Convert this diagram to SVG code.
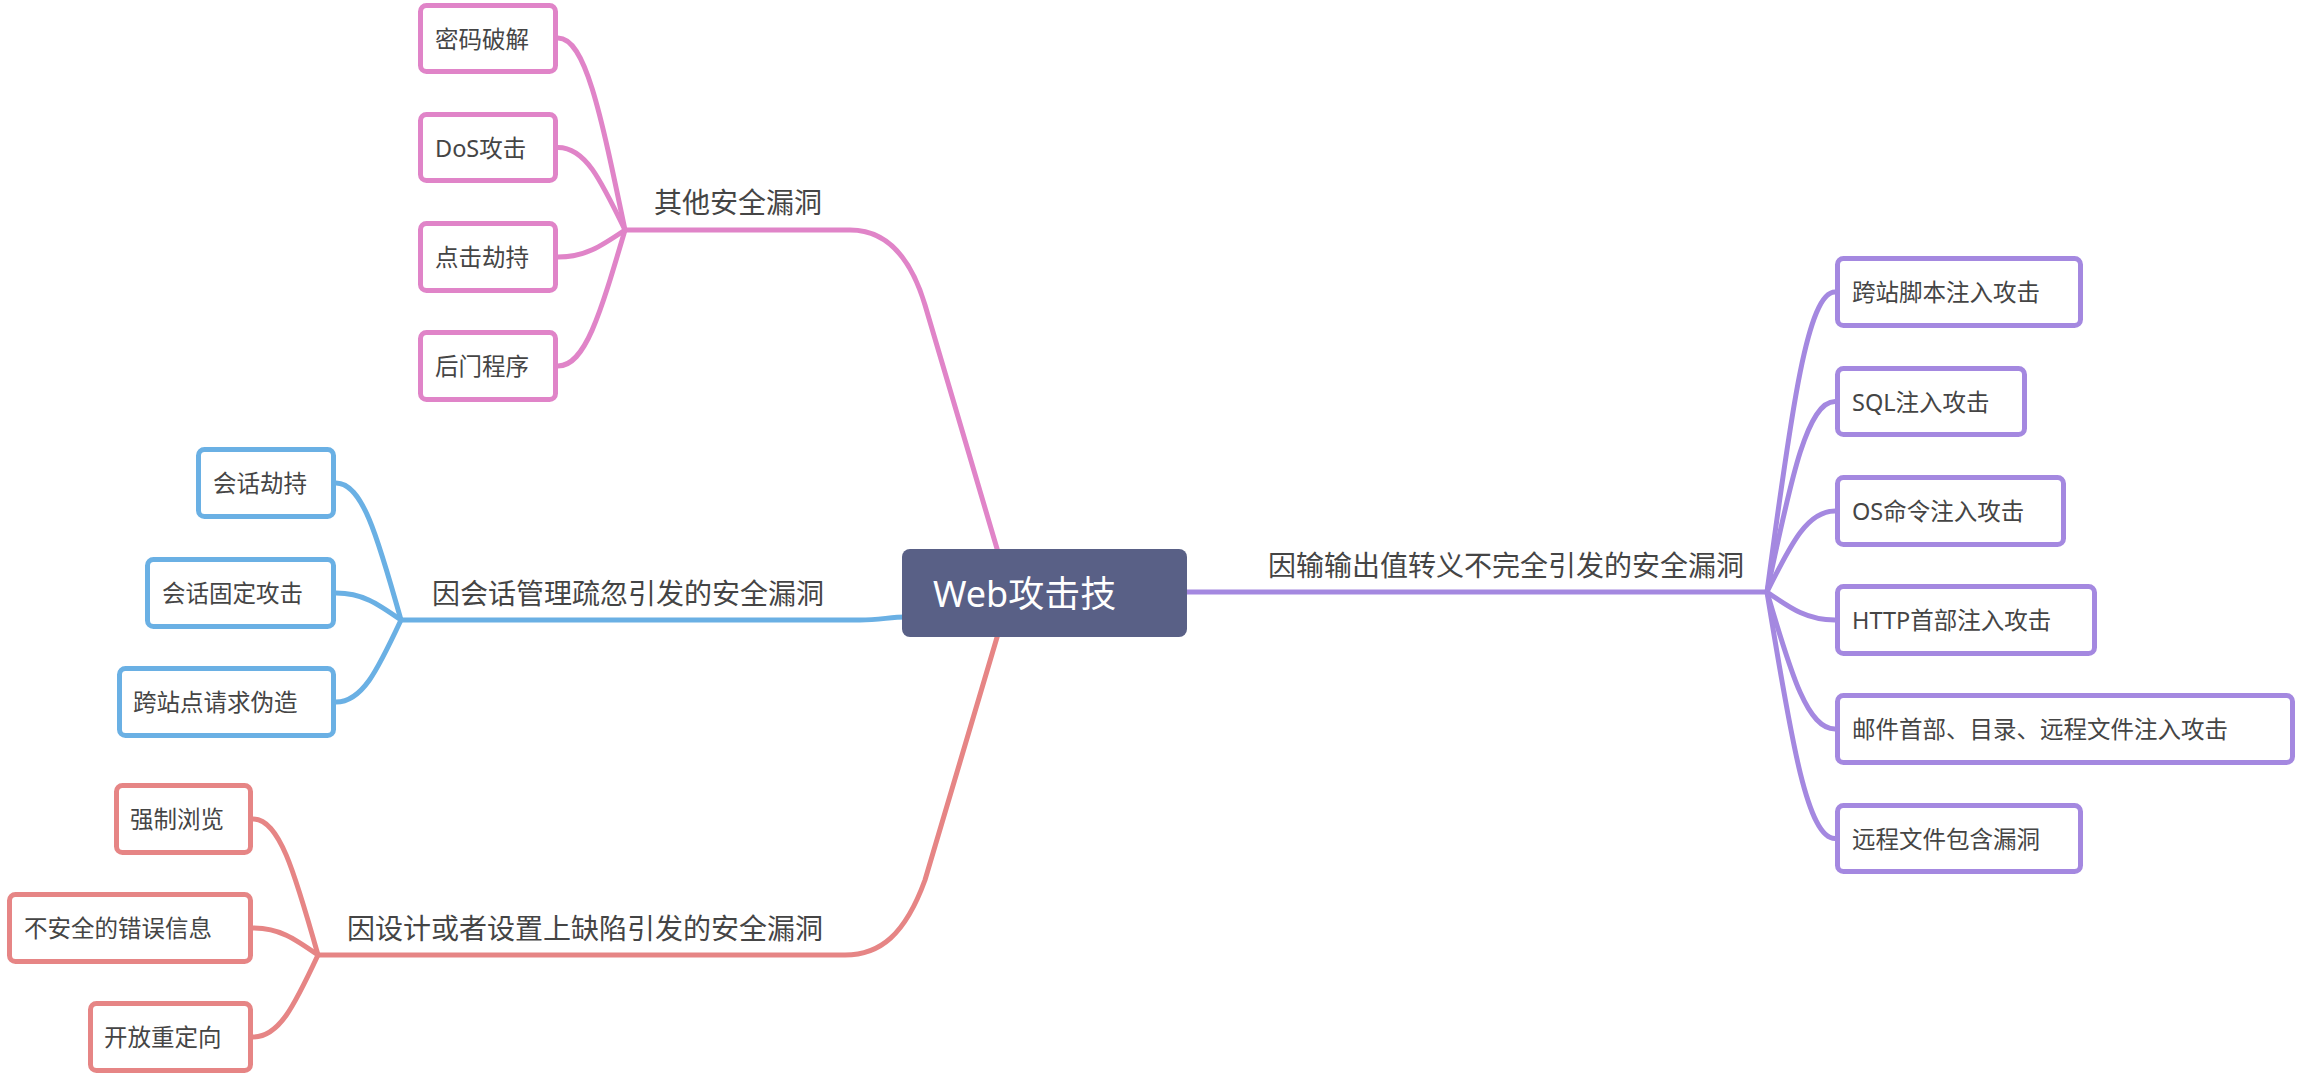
<svg xmlns="http://www.w3.org/2000/svg" width="2302" height="1076" viewBox="0 0 2302 1076">
<style>
.bg{fill:#ffffff}
.ln{fill:none;stroke-width:5;stroke-linecap:butt}
.pk{stroke:#E084C8}
.bl{stroke:#6AB0E4}
.rd{stroke:#E68585}
.pu{stroke:#A488E0}
.box{fill:#ffffff;stroke-width:5}
.t{font-family:"Noto Sans","Noto Sans CJK SC",sans-serif;fill:#454545;dominant-baseline:central}
.c{font-size:23.5px}
.b{font-size:28px}
.root{font-family:"Noto Sans","Noto Sans CJK SC",sans-serif;font-size:36px;fill:#ffffff;dominant-baseline:central}
</style>
<rect class="bg" x="0" y="0" width="2302" height="1076"/>
<g id="connectors">
  <!-- pink branch -->
  <path class="ln pk" d="M625,230 H850 C885,230 910,255 925,305 L998,552"/>
  <path class="ln pk" d="M558,38 C585,38 600,110 625,230"/>
  <path class="ln pk" d="M558,147.5 C585,147.5 600,178.4 625,230"/>
  <path class="ln pk" d="M558,257 C585,257 600,246.9 625,230"/>
  <path class="ln pk" d="M558,366 C585,366 600,315 625,230"/>
  <!-- blue branch -->
  <path class="ln bl" d="M401,620 H860 C880,620 890,617 906,617"/>
  <path class="ln bl" d="M336,483 C362,483 377,534.4 401,620"/>
  <path class="ln bl" d="M336,593 C362,593 377,603.1 401,620"/>
  <path class="ln bl" d="M336,702 C362,702 377,671.3 401,620"/>
  <!-- red branch -->
  <path class="ln rd" d="M318,955 H845 C880,955 905,935 925,880 L998,634"/>
  <path class="ln rd" d="M253,819 C279,819 294,870 318,955"/>
  <path class="ln rd" d="M253,928 C279,928 294,938.1 318,955"/>
  <path class="ln rd" d="M253,1037 C279,1037 294,1006.3 318,955"/>
  <!-- purple branch -->
  <path class="ln pu" d="M1184,592 H1767"/>
  <path class="ln pu" d="M1835,292 C1808,292 1792,404.5 1767,592"/>
  <path class="ln pu" d="M1835,401.5 C1808,401.5 1792,472.9 1767,592"/>
  <path class="ln pu" d="M1835,511 C1808,511 1792,541.4 1767,592"/>
  <path class="ln pu" d="M1835,620 C1808,620 1792,609.5 1767,592"/>
  <path class="ln pu" d="M1835,729 C1808,729 1792,677.6 1767,592"/>
  <path class="ln pu" d="M1835,838.5 C1808,838.5 1792,746.1 1767,592"/>
</g>

<g id="root">
  <rect x="902" y="549" width="285" height="88" rx="8" fill="#596086"/>
  <text class="root" x="933" y="593">Web攻击技</text>
</g>

<g id="branch-other">
  <text class="t b" x="654" y="202">其他安全漏洞</text>
</g>
<g id="node-mima">
  <rect class="box pk" x="420.5" y="5.5" width="135" height="66" rx="6"/>
  <text class="t c" x="435" y="38.5">密码破解</text>
</g>
<g id="node-dos">
  <rect class="box pk" x="420.5" y="114.5" width="135" height="66" rx="6"/>
  <text class="t c" x="435" y="147.5">DoS攻击</text>
</g>
<g id="node-click">
  <rect class="box pk" x="420.5" y="223.5" width="135" height="67" rx="6"/>
  <text class="t c" x="435" y="257">点击劫持</text>
</g>
<g id="node-backdoor">
  <rect class="box pk" x="420.5" y="332.5" width="135" height="67" rx="6"/>
  <text class="t c" x="435" y="366">后门程序</text>
</g>

<g id="branch-session">
  <text class="t b" x="432" y="593">因会话管理疏忽引发的安全漏洞</text>
</g>
<g id="node-session-hijack">
  <rect class="box bl" x="198.5" y="449.5" width="135" height="67" rx="6"/>
  <text class="t c" x="213" y="483">会话劫持</text>
</g>
<g id="node-session-fix">
  <rect class="box bl" x="147.5" y="559.5" width="186" height="67" rx="6"/>
  <text class="t c" x="162" y="593">会话固定攻击</text>
</g>
<g id="node-csrf">
  <rect class="box bl" x="119.5" y="668.5" width="214" height="67" rx="6"/>
  <text class="t c" x="133" y="702">跨站点请求伪造</text>
</g>

<g id="branch-design">
  <text class="t b" x="347" y="928">因设计或者设置上缺陷引发的安全漏洞</text>
</g>
<g id="node-force">
  <rect class="box rd" x="116.5" y="785.5" width="134" height="67" rx="6"/>
  <text class="t c" x="130" y="819">强制浏览</text>
</g>
<g id="node-error">
  <rect class="box rd" x="9.5" y="894.5" width="241" height="67" rx="6"/>
  <text class="t c" x="24" y="928">不安全的错误信息</text>
</g>
<g id="node-redirect">
  <rect class="box rd" x="90.5" y="1003.5" width="160" height="67" rx="6"/>
  <text class="t c" x="104" y="1037">开放重定向</text>
</g>

<g id="branch-escape">
  <text class="t b" x="1268" y="565">因输输出值转义不完全引发的安全漏洞</text>
</g>
<g id="node-xss">
  <rect class="box pu" x="1837.5" y="258.5" width="243" height="67" rx="6"/>
  <text class="t c" x="1852" y="292">跨站脚本注入攻击</text>
</g>
<g id="node-sql">
  <rect class="box pu" x="1837.5" y="368.5" width="187" height="66" rx="6"/>
  <text class="t c" x="1852" y="401.5">SQL注入攻击</text>
</g>
<g id="node-os">
  <rect class="box pu" x="1837.5" y="477.5" width="226" height="67" rx="6"/>
  <text class="t c" x="1852" y="511">OS命令注入攻击</text>
</g>
<g id="node-http">
  <rect class="box pu" x="1837.5" y="586.5" width="257" height="67" rx="6"/>
  <text class="t c" x="1852" y="620">HTTP首部注入攻击</text>
</g>
<g id="node-mail">
  <rect class="box pu" x="1837.5" y="695.5" width="455" height="67" rx="6"/>
  <text class="t c" x="1852" y="729">邮件首部、目录、远程文件注入攻击</text>
</g>
<g id="node-rfi">
  <rect class="box pu" x="1837.5" y="805.5" width="243" height="66" rx="6"/>
  <text class="t c" x="1852" y="838.5">远程文件包含漏洞</text>
</g>
</svg>
